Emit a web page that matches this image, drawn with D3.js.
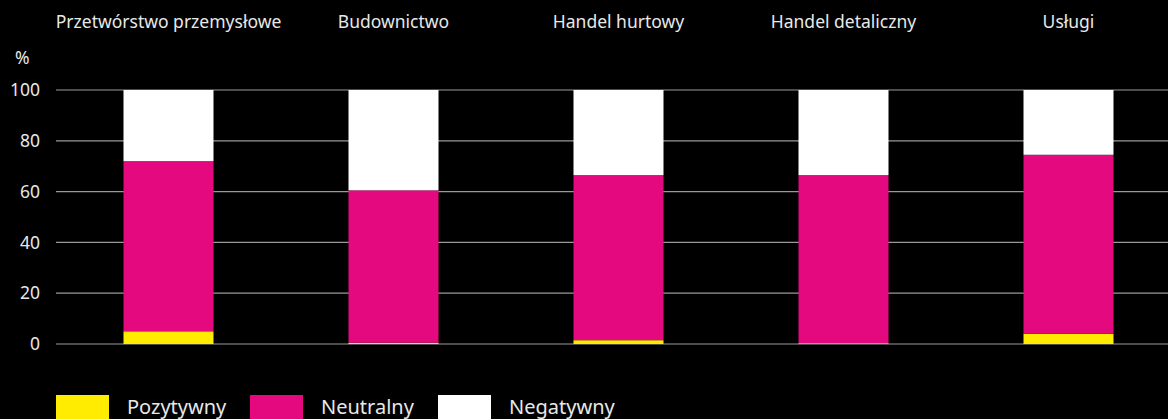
<!DOCTYPE html>
<html>
<head>
<meta charset="utf-8">
<script src="https://cdn.jsdelivr.net/npm/d3@7"></script>
<style>
  html, body { margin: 0; padding: 0; background: #000; }
  svg { display: block; font-family: "Noto Sans", "Open Sans", sans-serif; }
</style>
</head>
<body>
<svg id="drawing_region"></svg>
<script>
const categories = ["Przetwórstwo przemysłowe", "Budownictwo", "Handel hurtowy", "Handel detaliczny", "Usługi"];
const series = ["Pozytywny", "Neutralny", "Negatywny"];
const pozytywny = [5, 0.5, 1.5, 0.3, 4];
const neutralny = [67, 60, 65, 66.2, 70.5];
const negatywny = [28, 39.5, 33.5, 33.5, 25.5];
const yticks = [0, 20, 40, 60, 80, 100];
const colors = ["#ffec00", "#e5097f", "#ffffff"];

const width = 1168, height = 419;
const margin = {top: 90, left: 56, bottom: 75};

const svg = d3.select('#drawing_region')
    .attr('width', width)
    .attr('height', height);

const table = categories.map((c, i) => ({
    cat: c,
    Pozytywny: pozytywny[i],
    Neutralny: neutralny[i],
    Negatywny: negatywny[i]
}));
const stacked = d3.stack().keys(series)(table);

const xscale = d3.scaleBand()
    .domain(categories)
    .range([margin.left, margin.left + 1125])
    .paddingInner(0.6)
    .paddingOuter(0.3);

const yscale = d3.scaleLinear()
    .domain([0, 100])
    .range([344, 90]);

// grid
svg.append('g')
    .selectAll('line')
    .data(yticks)
    .join('line')
    .attr('x1', margin.left)
    .attr('x2', width)
    .attr('y1', d => yscale(d))
    .attr('y2', d => yscale(d))
    .attr('stroke', '#999')
    .attr('stroke-width', 1.2);

// y labels
const yaxis = d3.axisLeft(yscale).tickValues(yticks).tickSize(0).tickPadding(0);
const yaxis_group = svg.append('g')
    .attr('transform', 'translate(40,0)')
    .call(yaxis);
yaxis_group.select('.domain').remove();
yaxis_group.selectAll('text')
    .attr('fill', '#e8e8e8')
    .attr('font-size', '17.5px')
    .attr('font-family', '"Noto Sans", sans-serif');

svg.append('text')
    .attr('x', 15)
    .attr('y', 64)
    .attr('fill', '#e8e8e8')
    .attr('font-size', '17.5px')
    .text('%');

// bars
svg.append('g')
    .selectAll('g')
    .data(stacked)
    .join('g')
    .attr('fill', (d, i) => colors[i])
    .selectAll('rect')
    .data(d => d)
    .join('rect')
    .attr('x', d => xscale(d.data.cat))
    .attr('width', xscale.bandwidth())
    .attr('y', d => yscale(d[1]))
    .attr('height', d => yscale(d[0]) - yscale(d[1]));

// category titles
svg.append('g')
    .selectAll('text')
    .data(categories)
    .join('text')
    .attr('x', d => xscale(d) + xscale.bandwidth() / 2)
    .attr('y', 28)
    .attr('text-anchor', 'middle')
    .attr('fill', '#e8e8e8')
    .attr('font-size', '17.5px')
    .text(d => d);

// legend
const legendX = [56, 250, 438];
const legend = svg.append('g')
    .selectAll('g')
    .data(series)
    .join('g')
    .attr('transform', (d, i) => `translate(${legendX[i]}, 395)`);
legend.append('rect')
    .attr('width', 53)
    .attr('height', 30)
    .attr('fill', (d, i) => colors[i]);
legend.append('text')
    .attr('x', 71)
    .attr('y', 19)
    .attr('fill', '#e8e8e8')
    .attr('font-size', '20px')
    .text(d => d);
</script>
</body>
</html>
